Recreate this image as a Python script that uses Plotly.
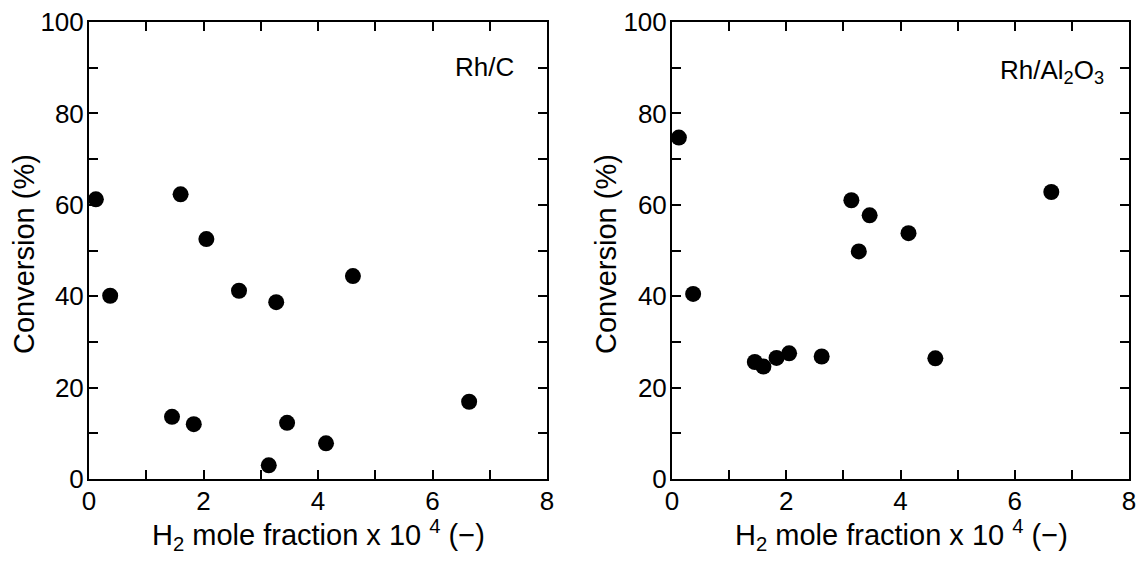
import plotly.graph_objects as go

# Data
h2_fraction = [0.12, 0.37, 1.45, 1.60, 1.83, 2.05, 2.62, 3.14, 3.27, 3.46, 4.14, 4.61, 6.64]
conv_rh_c = [61.2, 40.1, 13.6, 62.3, 12.0, 52.5, 41.2, 3.0, 38.7, 12.3, 7.8, 44.4, 16.9]
conv_rh_al2o3 = [74.7, 40.5, 25.6, 24.6, 26.5, 27.5, 26.8, 61.0, 49.8, 57.7, 53.8, 26.4, 62.8]

panel_labels = ["Rh/C", "Rh/Al<sub>2</sub>O<sub>3</sub>"]
x_title = "H<sub>2</sub> mole fraction x 10 <sup>4</sup> (\u2212)"
y_title = "Conversion (%)"
x_ticks = [0, 2, 4, 6, 8]
y_ticks = [0, 20, 40, 60, 80, 100]

W, H = 1138, 561
FONT = "Liberation Sans, Arial, sans-serif"
TICK_SIZE = 26
TITLE_SIZE = 29

def px(x):
    return x / W

def py(y):
    return 1 - y / H

fig = go.Figure()
fig.add_trace(go.Scatter(x=h2_fraction, y=conv_rh_c, mode="markers",
                         marker=dict(color="black", size=16), cliponaxis=False,
                         xaxis="x", yaxis="y", showlegend=False))
fig.add_trace(go.Scatter(x=h2_fraction, y=conv_rh_al2o3, mode="markers",
                         marker=dict(color="black", size=16), cliponaxis=False,
                         xaxis="x2", yaxis="y2", showlegend=False))

ydom = [py(479), py(22)]
xdom1 = [px(89), px(547)]
xdom2 = [px(672), px(1129)]

def xaxis(domain, anchor):
    return dict(domain=domain, anchor=anchor, range=[0, 8], tickvals=x_ticks,
                automargin=False, ticklabeloverflow="allow", ticklabelstandoff=-2,
                showline=True, linewidth=2, linecolor="black", mirror="ticks",
                ticks="inside", ticklen=9, tickwidth=1.5, tickcolor="black",
                minor=dict(dtick=1, ticks="inside", ticklen=9, tickwidth=1.5, tickcolor="black"),
                showgrid=False, zeroline=False,
                tickfont=dict(family=FONT, size=TICK_SIZE, color="black"))

def yaxis(domain, anchor):
    return dict(domain=domain, anchor=anchor, range=[0, 100], tickvals=y_ticks,
                automargin=False, ticklabeloverflow="allow", ticklabelstandoff=-2,
                showline=True, linewidth=2, linecolor="black", mirror="ticks",
                ticks="inside", ticklen=9, tickwidth=1.5, tickcolor="black",
                minor=dict(dtick=10, ticks="inside", ticklen=9, tickwidth=1.5, tickcolor="black"),
                showgrid=False, zeroline=False,
                tickfont=dict(family=FONT, size=TICK_SIZE, color="black"))

def label(text, x, y, xanchor="center", size=TITLE_SIZE, angle=0):
    return dict(text=text, x=px(x), y=py(y), xref="paper", yref="paper",
                xanchor=xanchor, yanchor="middle", showarrow=False, textangle=angle,
                font=dict(family=FONT, size=size, color="black"))

fig.update_layout(
    width=W, height=H,
    margin=dict(l=0, r=0, t=0, b=0),
    paper_bgcolor="white", plot_bgcolor="white",
    xaxis=xaxis(xdom1, "y"), yaxis=yaxis(ydom, "x"),
    xaxis2=xaxis(xdom2, "y2"), yaxis2=yaxis(ydom, "x2"),
    annotations=[
        label(panel_labels[0], 516, 67, xanchor="right", size=26),
        label(panel_labels[1], 1106, 71, xanchor="right", size=26),
        # axis titles
        label(x_title, 318, 535),
        label(x_title, 901, 535),
        label(y_title, 24, 254, angle=-90),
        label(y_title, 606, 254, angle=-90),
    ],
)

# Remove the default page margin so the figure fills the window exactly.
fig.write_html("out.html", config={"displayModeBar": False},
               post_script="document.body.style.margin='0';document.body.style.overflow='hidden';")
